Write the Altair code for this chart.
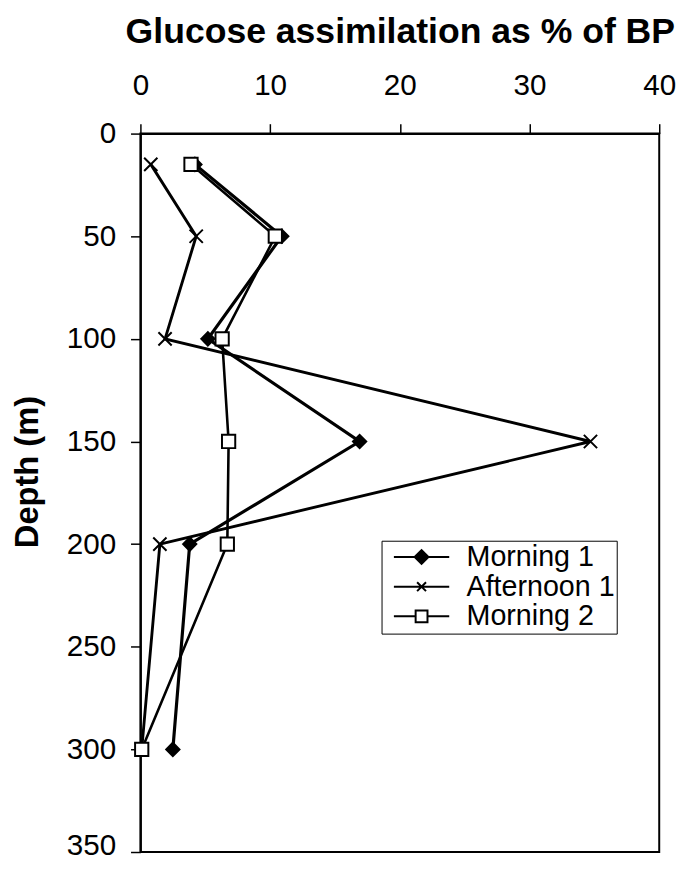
import altair as alt
import pandas as pd

# ---- data ----
depth = [15, 50, 100, 150, 200, 300]
series_names = ["Morning 1", "Afternoon 1", "Morning 2"]
morning_1 = [4.2, 10.9, 5.2, 16.9, 3.8, 2.5]
afternoon_1 = [0.8, 4.3, 1.9, 34.7, 1.5, 0.1]
morning_2 = [3.9, 10.4, 6.3, 6.8, 6.7, 0.1]
x_ticks = [0, 10, 20, 30, 40]
y_ticks = [0, 50, 100, 150, 200, 250, 300, 350]

rows = []
for name, vals in zip(series_names, [morning_1, afternoon_1, morning_2]):
    for d, v in zip(depth, vals):
        rows.append({"series": name, "depth": d, "value": v})
df = pd.DataFrame(rows)

FONT = "Liberation Sans"

x_enc = alt.X(
    "value:Q",
    scale=alt.Scale(domain=[0, 40], nice=False, zero=False),
    axis=alt.Axis(
        orient="top", values=x_ticks, title="Glucose assimilation as % of BP",
        labelFontSize=30, titleFontSize=36, titleFontWeight="bold",
        tickSize=10, labelPadding=24, titlePadding=20, grid=False, labelFlush=False,
    ),
)
y_enc = alt.Y(
    "depth:Q",
    scale=alt.Scale(domain=[0, 350], reverse=True, nice=False, zero=False),
    axis=alt.Axis(
        values=y_ticks, title="Depth (m)",
        labelFontSize=30, titleFontSize=33, titleFontWeight="bold",
        tickSize=10, labelPadding=15, titlePadding=22, titleY=342, grid=False, labelFlush=False,
        labelOffset={"condition": {"test": "datum.value === 350", "value": -6}, "value": 0},
    ),
)

lines = alt.Chart(df).mark_line(color="black").encode(
    x=x_enc, y=y_enc,
    detail="series:N",
    order="depth:Q",
    strokeWidth=alt.StrokeWidth(
        "series:N", scale=alt.Scale(domain=series_names, range=[3.2, 2.6, 2.2]), legend=None
    ),
)

points = alt.Chart(df).mark_point(filled=True, stroke="black", strokeWidth=2, size=180, opacity=1).encode(
    x=x_enc, y=y_enc,
    shape=alt.Shape(
        "series:N",
        scale=alt.Scale(domain=series_names, range=["diamond", "M-1,-1L1,1M-1,1L1,-1", "square"]),
        legend=None,
    ),
    fill=alt.Fill(
        "series:N", scale=alt.Scale(domain=series_names, range=["black", "black", "white"]), legend=None
    ),
)

legend_paths = [
    "M-2.8,0L2.8,0M-0.7,0L0,-0.7L0.7,0L0,0.7Z",
    "M-2.8,0L2.8,0M-0.45,-0.45L0.45,0.45M-0.45,0.45L0.45,-0.45",
    "M-2.8,0L-0.6,0M0.6,0L2.8,0M-0.6,-0.6L0.6,-0.6L0.6,0.6L-0.6,0.6Z",
]
leg = dict(
    title=None, orient="none", legendX=244, legendY=412,
    strokeColor="black", fillColor="white", padding=2,
    symbolSize=400, symbolStrokeWidth=2, symbolOffset=24, symbolOpacity=1,
    labelFont=FONT, labelFontSize=29, labelColor="black", labelOffset=31,
    labelLimit=300, rowPadding=0,
)
legend_layer = alt.Chart(df).transform_filter("false").mark_point(
    filled=True, stroke="black", strokeWidth=2, opacity=1
).encode(
    x=x_enc, y=y_enc,
    shape=alt.Shape("series:N", scale=alt.Scale(domain=series_names, range=legend_paths),
                    legend=alt.Legend(**leg)),
    fill=alt.Fill("series:N", scale=alt.Scale(domain=series_names, range=["black", "black", "white"]),
                  legend=alt.Legend(**leg)),
)

chart = (
    alt.layer(lines, points, legend_layer)
    .resolve_scale(shape="independent", fill="independent")
    .properties(
        width=525, height=727,
        autosize=alt.AutoSizeParams(type="none"),
        padding={"left": 134, "top": 122, "right": 19, "bottom": 4},
        background="white",
    )
    .configure(font=FONT)
    .configure_axis(
        domainColor="black", domainWidth=2, tickColor="black", tickWidth=1.5,
        labelColor="black", titleColor="black", labelFont=FONT, titleFont=FONT,
    )
    .configure_view(stroke="black", strokeWidth=2)
)

chart.save("out.html", embed_options={"renderer": "svg", "actions": False})
